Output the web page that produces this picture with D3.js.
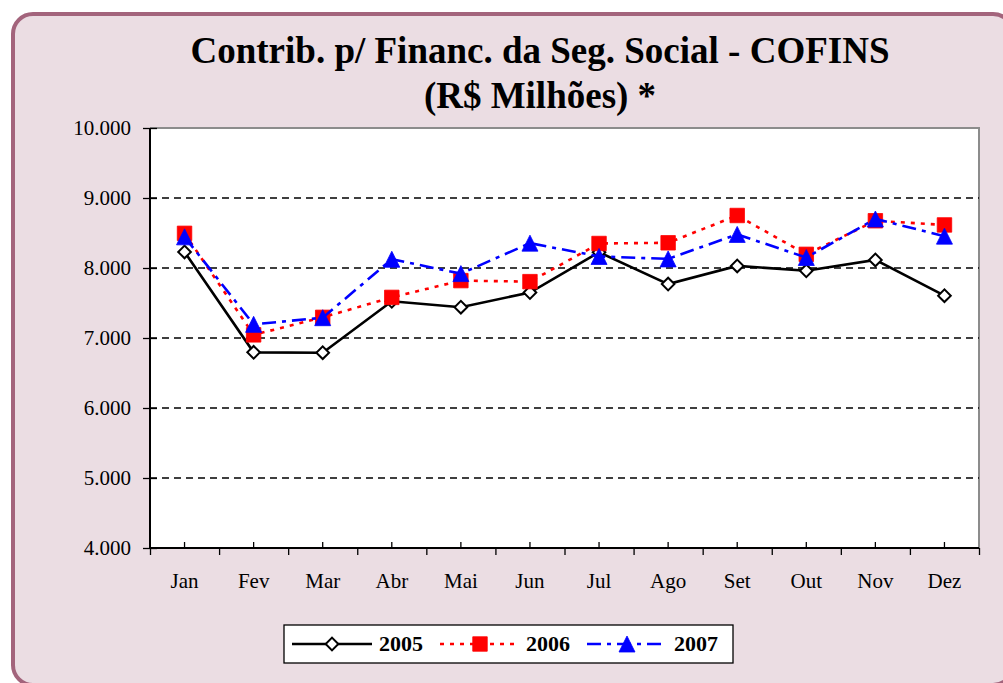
<!DOCTYPE html>
<html><head><meta charset="utf-8">
<script src="https://cdn.jsdelivr.net/npm/d3@7"></script>
<style>html,body{margin:0;padding:0;background:#fff;}svg{display:block;}</style>
</head><body>
<svg id="chart" width="1003" height="683"></svg>
<script>
const months = ["Jan","Fev","Mar","Abr","Mai","Jun","Jul","Ago","Set","Out","Nov","Dez"];
const years = ["2005","2006","2007"];
const v2005 = [8230,6795,6790,7525,7440,7650,8225,7770,8030,7960,8115,7605];
const v2006 = [8495,7045,7295,7580,7820,7805,8350,8360,8750,8195,8675,8615];
const v2007 = [8445,7195,7290,8125,7920,8355,8165,8130,8480,8150,8700,8455];
const yTicks = [4000,5000,6000,7000,8000,9000,10000];
const gridTicks = [5000,6000,7000,8000,9000];
const titleLines = ["Contrib. p/ Financ. da Seg. Social - COFINS","(R$ Milhões) *"];

const svg = d3.select("#chart");
const serif = "'Liberation Serif','Times New Roman',serif";

// card
svg.append("rect").attr("x",13).attr("y",14).attr("width",1000).attr("height",671)
  .attr("rx",20).attr("ry",20).attr("fill","#ebdde3").attr("stroke","#a3647c").attr("stroke-width",4);

// title
svg.append("text").attr("x",540).attr("y",63).attr("text-anchor","middle")
  .attr("font-family",serif).attr("font-weight","bold").attr("font-size",37)
  .selectAll("tspan").data(titleLines).join("tspan")
  .attr("x",540).attr("dy",(d,i)=>i===0?0:45).text(d=>d);

const L=150, R=979, T=128, B=548;
const x = d3.scaleBand().domain(months).range([L,R]).padding(0);
const xb = d3.scaleLinear().domain([0,12]).range([L,R]);
const y = d3.scaleLinear().domain([4000,10000]).range([B,T]);

// plot area
svg.append("rect").attr("x",L).attr("y",T).attr("width",R-L).attr("height",B-T).attr("fill","#fff");
svg.append("path").attr("d",`M${L},${T}H${R}V${B}`).attr("fill","none").attr("stroke","#8c8c8c").attr("stroke-width",2);

// grid
svg.append("g").selectAll("line").data(gridTicks).join("line")
  .attr("x1",L).attr("x2",R).attr("y1",d=>y(d)).attr("y2",d=>y(d))
  .attr("stroke","#000").attr("stroke-width",1.3).attr("stroke-dasharray","7,5");

// y axis
const gy = svg.append("g").attr("transform",`translate(${L},0)`)
  .call(d3.axisLeft(y).tickValues(yTicks).tickSize(7).tickPadding(12)
    .tickFormat(d=>d3.format(",")(d).replace(/,/g,".")));
gy.select(".domain").remove();
gy.selectAll(".tick line").attr("x1",-7).attr("x2",7).attr("stroke","#000").attr("stroke-width",1.3);
gy.selectAll(".tick text").attr("font-family",serif).attr("font-size",21).attr("fill","#000").attr("dy","0.3em");

// x axis: labels + inner minor ticks at centers
const gx = svg.append("g").attr("transform",`translate(0,${B})`)
  .call(d3.axisBottom(x).tickSize(-6).tickPadding(25));
gx.select(".domain").remove();
gx.selectAll(".tick line").attr("stroke","#000").attr("stroke-width",1.3);
gx.selectAll(".tick text").attr("font-family",serif).attr("font-size",21).attr("fill","#000");
// outer ticks at boundaries
const gx2 = svg.append("g").attr("transform",`translate(0,${B})`)
  .call(d3.axisBottom(xb).tickValues(d3.range(0,13)).tickSize(7).tickFormat(""));
gx2.select(".domain").remove();
gx2.selectAll(".tick line").attr("stroke","#000").attr("stroke-width",1.3);

// axis lines
svg.append("path").attr("d",`M${L},${T}V${B}H${R}`).attr("fill","none").attr("stroke","#000").attr("stroke-width",2);

// series
const tri = (w,h)=>{const p=d3.path();p.moveTo(0,-h/2);p.lineTo(w/2,h/2);p.lineTo(-w/2,h/2);p.closePath();return p.toString();};
const series = [
  {name:years[0], vals:v2005, color:"#000", dash:null, marker:"diamond"},
  {name:years[1], vals:v2006, color:"#ff0000", dash:"4,6", marker:"square"},
  {name:years[2], vals:v2007, color:"#0000ff", dash:"14,6,4,6", marker:"triangle"}
];
const markerPath = {
  diamond: d3.symbol().type(d3.symbolSquare).size(80)(),
  square: d3.symbol().type(d3.symbolSquare).size(210)(),
  triangle: tri(16,16)
};
function drawMarker(g, s, cx, cy){
  const m = g.append("path").attr("d",markerPath[s.marker]);
  if(s.marker==="diamond"){
    m.attr("transform",`translate(${cx},${cy}) rotate(45)`).attr("fill","#fff").attr("stroke","#000").attr("stroke-width",2);
  } else {
    m.attr("transform",`translate(${cx},${cy})`).attr("fill",s.color).attr("stroke",s.color).attr("stroke-width",0.8);
  }
}
const line = d3.line().x((d,i)=>x(months[i])+x.bandwidth()/2).y(d=>y(d));
series.forEach(s=>{
  const g = svg.append("g");
  const p = g.append("path").attr("d",line(s.vals)).attr("fill","none")
    .attr("stroke",s.color).attr("stroke-width",2.6);
  if(s.dash) p.attr("stroke-dasharray",s.dash);
  s.vals.forEach((v,i)=>drawMarker(g,s,x(months[i])+x.bandwidth()/2,y(v)));
});

// legend
const lg = svg.append("g");
lg.append("rect").attr("x",284).attr("y",625).attr("width",449).attr("height",38)
  .attr("fill","#fff").attr("stroke","#000").attr("stroke-width",1.3);
const legX = [292,440,587];
const textX = [379,526,674];
series.forEach((s,i)=>{
  const ly = 644;
  const ln = lg.append("line").attr("x1",legX[i]).attr("x2",legX[i]+80).attr("y1",ly).attr("y2",ly)
    .attr("stroke",s.color).attr("stroke-width",2.6);
  if(s.dash) ln.attr("stroke-dasharray",s.dash);
  drawMarker(lg,s,legX[i]+40,ly);
  lg.append("text").attr("x",textX[i]).attr("y",651).attr("font-family",serif)
    .attr("font-weight","bold").attr("font-size",22).attr("fill","#000").text(s.name);
});
</script>
</body></html>
